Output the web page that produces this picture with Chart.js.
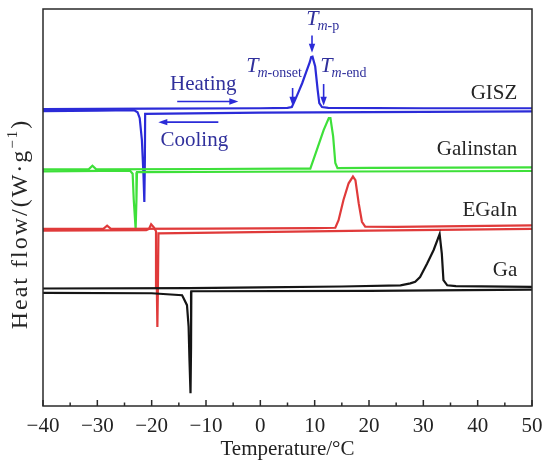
<!DOCTYPE html>
<html>
<head>
<meta charset="utf-8">
<script src="https://cdn.jsdelivr.net/npm/chart.js@4.4.0/dist/chart.umd.min.js"></script>
<style>
  html, body { margin: 0; padding: 0; background: #fff; }
</style>
</head>
<body>
<canvas id="dsc" width="544" height="464"></canvas>
<script>
// DSC traces, temperature in °C, heat flow in arbitrary units (each sample shifted up)
const gaHeatT = [-40, -13, 0, 15, 25.8, 27.6, 28.5, 29.4, 30.7, 31.9, 33.0, 33.4, 33.7, 34.4, 36, 50]
const gaHeatQ = [29.6, 29.7, 29.9, 30.1, 30.4, 30.9, 31.3, 32.5, 35.9, 39.3, 43.3, 38.4, 31.7, 30.4, 30.2, 30.0]
const gaCoolT = [50, 20, -12.7, -12.75, -12.85, -13.05, -13.2, -13.5, -14.1, -14.4, -20, -40]
const gaCoolQ = [29.3, 29.0, 28.9, 15, 3.2, 12, 20, 25.4, 27.1, 27.9, 28.4, 28.5]

const egainHeatT = [-40, -28.9, -28.2, -27.5, -10, 10, 13.8, 14.4, 15.3, 16.25, 17.05, 17.5, 18.1, 18.7, 19.3, 25, 50]
const egainHeatQ = [44.6, 44.6, 45.4, 44.6, 44.7, 44.8, 44.9, 46.8, 51.9, 56.1, 57.8, 56.9, 51.1, 46.4, 45.2, 45.1, 45.5]
const egainCoolT = [50, 20, -18.75, -18.85, -18.95, -19.05, -19.2, -19.6, -20.1, -20.5, -21, -40]
const egainCoolQ = [44.6, 44.2, 43.5, 30, 19.9, 30, 44.0, 45.0, 45.8, 44.6, 44.3, 44.2]

const galinHeatT = [-40, -31.6, -30.9, -30.2, -10, 5, 9.2, 10.4, 11.65, 12.6, 12.9, 13.4, 13.8, 14.2, 20, 50]
const galinHeatQ = [59.6, 59.6, 60.5, 59.6, 59.7, 59.8, 59.8, 64.5, 69.5, 72.5, 72.5, 67.9, 61.2, 59.9, 60.0, 60.1]
const galinCoolT = [50, 0, -22.7, -22.8, -22.95, -23.3, -23.5, -24, -40]
const galinCoolQ = [59.2, 59.0, 58.9, 52, 44.6, 52, 58.5, 59.3, 59.1]

const giszHeatT = [-40, -20, 0, 5.0, 5.8, 6.4, 7.0, 7.7, 8.4, 9.1, 9.35, 9.6, 10.1, 10.55, 10.85, 11.35, 12.5, 30, 50]
const giszHeatQ = [74.8, 74.9, 75.0, 75.1, 75.3, 77.1, 79.0, 81.3, 84.0, 86.6, 87.9, 88.0, 85.5, 79.6, 76.3, 75.3, 75.1, 75.0, 75.0]
const giszCoolT = [50, 0, -21.2, -21.25, -21.35, -21.5, -21.8, -22.2, -22.6, -23.2, -30, -40]
const giszCoolQ = [74.2, 73.9, 73.6, 62, 51.4, 58, 67, 72.5, 74.0, 74.5, 74.4, 74.3]

// sample names and where they sit on the right
const sampleNames = ['GISZ', 'Galinstan', 'EGaIn', 'Ga']
const sampleColors = ['#2b2bd8', '#3ee03a', '#e03a3a', '#151515']
const nameT = 47.3
const nameQ = [78.6, 64.5, 49.2, 34.1]

// characteristic temperatures on the GISZ melting peak
const tmSubs = ['-onset', '-p', '-end']
const tmTextT = [-2.6, 8.45, 11.05]
const tmTextQ = [84.2, 96.0, 84.2]
const tmArrowT = [5.94, 9.51, 11.65]
const tmArrowTop = [80.1, 93.3, 81.1]
const tmArrowBottom = [75.6, 89.0, 75.6]

const xMin = -40
const xMax = 50
const serif = '"Liberation Serif", "Times New Roman", serif'
const navy = '#30309c'

function pairs(ts, qs) {
  return ts.map((t, i) => ({ x: t, y: qs[i] }))
}

function trace(label, ts, qs, color) {
  return {
    label: label,
    data: pairs(ts, qs),
    borderColor: color,
    borderWidth: 2.2,
    showLine: true,
    pointRadius: 0,
    tension: 0
  }
}

function arrow(ctx, x1, y1, x2, y2, color) {
  const ang = Math.atan2(y2 - y1, x2 - x1)
  const len = 9, half = 3.2
  ctx.strokeStyle = color
  ctx.fillStyle = color
  ctx.lineWidth = 1.6
  ctx.beginPath()
  ctx.moveTo(x1, y1)
  ctx.lineTo(x2 - Math.cos(ang) * len * 0.7, y2 - Math.sin(ang) * len * 0.7)
  ctx.stroke()
  ctx.beginPath()
  ctx.moveTo(x2, y2)
  ctx.lineTo(x2 - Math.cos(ang) * len - Math.sin(ang) * half, y2 - Math.sin(ang) * len + Math.cos(ang) * half)
  ctx.lineTo(x2 - Math.cos(ang) * len + Math.sin(ang) * half, y2 - Math.sin(ang) * len - Math.cos(ang) * half)
  ctx.closePath()
  ctx.fill()
}

const decorations = {
  id: 'decorations',
  afterDatasetsDraw(chart) {
    const { ctx, chartArea: a, scales: { x, y } } = chart
    ctx.save()

    // frame and inward ticks
    ctx.strokeStyle = '#2a2a2a'
    ctx.lineWidth = 1.5
    ctx.strokeRect(a.left, a.top, a.right - a.left, a.bottom - a.top)
    for (let t = xMin; t <= xMax; t += 5) {
      const px = x.getPixelForValue(t)
      const len = t % 10 === 0 ? 6 : 3.5
      ctx.beginPath()
      ctx.moveTo(px, a.bottom)
      ctx.lineTo(px, a.bottom - len)
      ctx.stroke()
    }

    // sample names
    ctx.font = '21px ' + serif
    ctx.fillStyle = '#262626'
    ctx.textAlign = 'right'
    ctx.textBaseline = 'middle'
    sampleNames.forEach((n, i) => {
      ctx.fillText(n, x.getPixelForValue(nameT), y.getPixelForValue(nameQ[i]))
    })

    // heating / cooling
    ctx.fillStyle = navy
    ctx.textAlign = 'center'
    ctx.fillText('Heating', x.getPixelForValue(-10.5), y.getPixelForValue(81.0))
    ctx.fillText('Cooling', x.getPixelForValue(-12.15), y.getPixelForValue(67.0))
    arrow(ctx, x.getPixelForValue(-15.3), y.getPixelForValue(76.7), x.getPixelForValue(-4.05), y.getPixelForValue(76.7), '#2b2bd8')
    arrow(ctx, x.getPixelForValue(-7.73), y.getPixelForValue(71.5), x.getPixelForValue(-18.78), y.getPixelForValue(71.5), '#2b2bd8')

    // T_m labels
    ctx.textAlign = 'left'
    ctx.textBaseline = 'alphabetic'
    tmSubs.forEach((s, i) => {
      const px = x.getPixelForValue(tmTextT[i])
      const py = y.getPixelForValue(tmTextQ[i])
      ctx.fillStyle = navy
      ctx.font = 'italic 22px ' + serif
      ctx.fillText('T', px, py)
      let sx = px + ctx.measureText('T').width - 1
      ctx.font = 'italic 14px ' + serif
      ctx.fillText('m', sx, py + 5)
      sx += ctx.measureText('m').width
      ctx.font = '14px ' + serif
      ctx.fillText(s, sx, py + 5)
      arrow(ctx, x.getPixelForValue(tmArrowT[i]), y.getPixelForValue(tmArrowTop[i]),
        x.getPixelForValue(tmArrowT[i]), y.getPixelForValue(tmArrowBottom[i]), '#2b2bd8')
    })

    // y axis title with superscript
    ctx.translate(21, 224)
    ctx.rotate(-Math.PI / 2)
    ctx.fillStyle = '#262626'
    ctx.textBaseline = 'middle'
    ctx.letterSpacing = '2px'
    const main = 'Heat flow/(W·g'
    ctx.font = '24px ' + serif
    const wMain = ctx.measureText(main).width
    const wClose = ctx.measureText(')').width
    ctx.font = '15px ' + serif
    const wSup = ctx.measureText('−1').width
    let tx = -(wMain + wSup + wClose) / 2
    ctx.font = '24px ' + serif
    ctx.fillText(main, tx, 0)
    tx += wMain
    ctx.font = '15px ' + serif
    ctx.fillText('−1', tx, -8)
    tx += wSup
    ctx.font = '24px ' + serif
    ctx.fillText(')', tx, 0)

    ctx.restore()
  }
}

new Chart(document.getElementById('dsc'), {
  type: 'scatter',
  data: {
    datasets: [
      trace('Ga heating', gaHeatT, gaHeatQ, sampleColors[3]),
      trace('Ga cooling', gaCoolT, gaCoolQ, sampleColors[3]),
      trace('EGaIn heating', egainHeatT, egainHeatQ, sampleColors[2]),
      trace('EGaIn cooling', egainCoolT, egainCoolQ, sampleColors[2]),
      trace('Galinstan heating', galinHeatT, galinHeatQ, sampleColors[1]),
      trace('Galinstan cooling', galinCoolT, galinCoolQ, sampleColors[1]),
      trace('GISZ heating', giszHeatT, giszHeatQ, sampleColors[0]),
      trace('GISZ cooling', giszCoolT, giszCoolQ, sampleColors[0])
    ]
  },
  options: {
    responsive: false,
    animation: false,
    devicePixelRatio: 1,
    layout: { padding: { left: 43, right: 12, top: 9, bottom: 0 } },
    plugins: { legend: { display: false }, tooltip: { enabled: false } },
    scales: {
      x: {
        type: 'linear',
        min: xMin,
        max: xMax,
        afterFit: (scale) => { scale.height = 58 },
        grid: { display: false },
        border: { display: false },
        ticks: {
          stepSize: 10,
          autoSkip: false,
          maxRotation: 0,
          padding: 0,
          color: '#222',
          font: { family: serif, size: 21 },
          callback: (v) => v < 0 ? '−' + Math.abs(v) : String(v)
        },
        title: {
          display: true,
          text: 'Temperature/°C',
          color: '#222',
          font: { family: serif, size: 21 },
          padding: { top: 0, bottom: 2 }
        }
      },
      y: { type: 'linear', min: 0, max: 100, display: false }
    }
  },
  plugins: [decorations]
})
</script>
</body>
</html>
